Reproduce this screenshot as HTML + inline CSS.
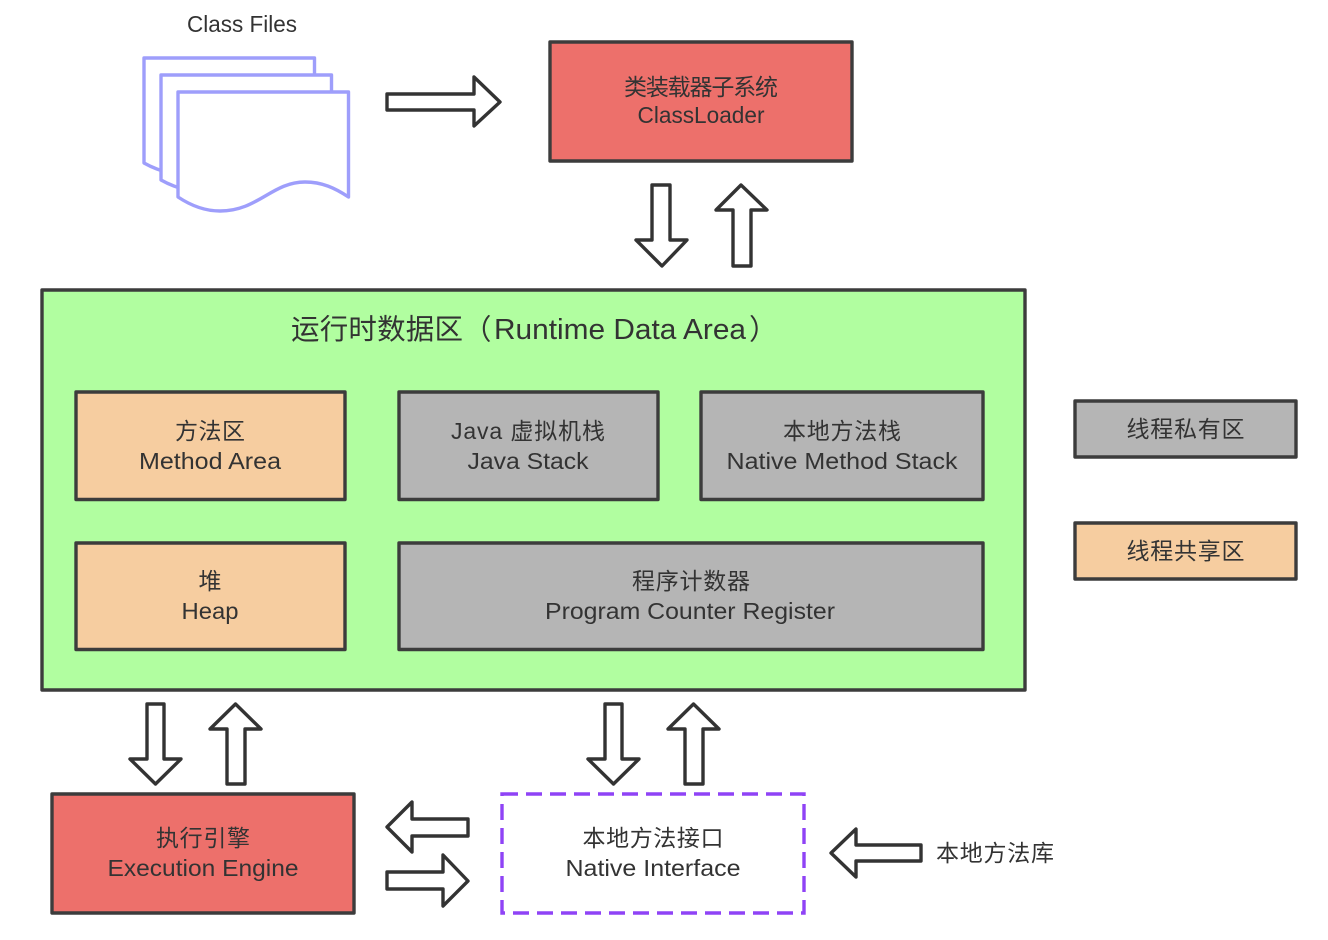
<!DOCTYPE html>
<html><head><meta charset="utf-8"><style>
html,body{margin:0;padding:0;background:#fff;width:1328px;height:940px;overflow:hidden}
svg{display:block}
text{font-family:"Liberation Sans","Noto Sans CJK SC",sans-serif;fill:#333;font-size:23px;text-anchor:middle}
text.t{font-size:28.5px;text-anchor:start}
.b{stroke:#3c3c3c;stroke-width:3.4;stroke-linejoin:round}
.a{fill:#fff;stroke:#333;stroke-width:3.4;stroke-linejoin:round}
.d{fill:#fff;stroke:#9e9efb;stroke-width:3.4;stroke-linejoin:round}
</style></head><body>
<svg width="1328" height="940" viewBox="0 0 1328 940" xmlns="http://www.w3.org/2000/svg">
<rect width="1328" height="940" fill="#fff"/>
<text x="242" y="32" lengthAdjust="spacingAndGlyphs" textLength="110">Class Files</text>
<path class="d" d="M144 58H314.500V163C308 160 298 155 285 155C255 155 245 177 205 177C180 177 160 172 144 163Z"/>
<path class="d" d="M161 75H331.500V180C325 177 315 172 302 172C272 172 262 194 222 194C197 194 177 189 161 180Z"/>
<path class="d" d="M178 92H348.500V197C335 188 322 182 305 182C272 182 258 211 220 211C204 211 190 205 178 197Z"/>
<path class="a" d="M387 94H474V77L500 102L474 126V110H387Z"/>
<rect class="b" x="550" y="42" width="302" height="119" fill="#ed706b"/>
<text x="701" y="95" textLength="154">类装载器子系统</text>
<text x="701" y="123" textLength="127" lengthAdjust="spacingAndGlyphs">ClassLoader</text>
<path class="a" d="M652 185H670V240H687L662 266L636 240H652Z"/>
<path class="a" d="M741 185L767 210H751V266H733V210H716Z"/>
<rect class="b" x="42" y="290" width="983" height="400" fill="#b1fea0"/>
<text class="t" x="291" y="339" textLength="172">运行时数据区</text>
<text class="t" x="463" y="339">（</text>
<text class="t" x="494" y="339" textLength="252" lengthAdjust="spacingAndGlyphs">Runtime Data Area</text>
<text class="t" x="749" y="339">）</text>
<rect class="b" x="76" y="392" width="269" height="107.500" fill="#f6cda0"/>
<text x="210" y="439" textLength="70">方法区</text>
<text x="210" y="469" textLength="142" lengthAdjust="spacingAndGlyphs">Method Area</text>
<rect class="b" x="399" y="392" width="259" height="107.500" fill="#b5b5b5"/>
<text x="528" y="439" textLength="154" lengthAdjust="spacing">Java 虚拟机栈</text>
<text x="528" y="469" textLength="121" lengthAdjust="spacingAndGlyphs">Java Stack</text>
<rect class="b" x="701" y="392" width="282" height="107.500" fill="#b5b5b5"/>
<text x="842" y="439" textLength="118">本地方法栈</text>
<text x="842" y="469" textLength="231" lengthAdjust="spacingAndGlyphs">Native Method Stack</text>
<rect class="b" x="76" y="543" width="269" height="106.500" fill="#f6cda0"/>
<text x="210" y="589">堆</text>
<text x="210" y="619" textLength="57" lengthAdjust="spacingAndGlyphs">Heap</text>
<rect class="b" x="399" y="543" width="584" height="106.500" fill="#b5b5b5"/>
<text x="691" y="589" textLength="118">程序计数器</text>
<text x="690" y="619" textLength="290" lengthAdjust="spacingAndGlyphs">Program Counter Register</text>
<rect class="b" x="1075" y="401" width="221" height="56" fill="#b5b5b5"/>
<text x="1185.500" y="437" textLength="118">线程私有区</text>
<rect class="b" x="1075" y="523" width="221" height="56" fill="#f6cda0"/>
<text x="1185.500" y="559" textLength="118">线程共享区</text>
<path class="a" d="M147 704H164V759H181L155.500 784L130 759H147Z"/>
<path class="a" d="M235.500 704L261 729H245V784H227V729H210Z"/>
<path class="a" d="M605 704H622V759H639L613.500 784L588 759H605Z"/>
<path class="a" d="M693.500 704L719 729H703V784H685V729H668Z"/>
<rect class="b" x="52" y="794" width="302" height="119" fill="#ed706b"/>
<text x="203" y="846" textLength="94">执行引擎</text>
<text x="203" y="876" textLength="191" lengthAdjust="spacingAndGlyphs">Execution Engine</text>
<path class="a" d="M387 827L412 802V819H468V836H412V852Z"/>
<path class="a" d="M387 872H443V855L468 881L443 906V889H387Z"/>
<rect x="502" y="794" width="302" height="119" fill="#fff" stroke="#8f43f6" stroke-width="3.4" stroke-dasharray="16 8"/>
<text x="653" y="846" textLength="141">本地方法接口</text>
<text x="653" y="876" textLength="175" lengthAdjust="spacingAndGlyphs">Native Interface</text>
<path class="a" d="M831 853L856 829V845H921V861H856V877Z"/>
<text x="995" y="861" textLength="118">本地方法库</text>
</svg>
</body></html>
